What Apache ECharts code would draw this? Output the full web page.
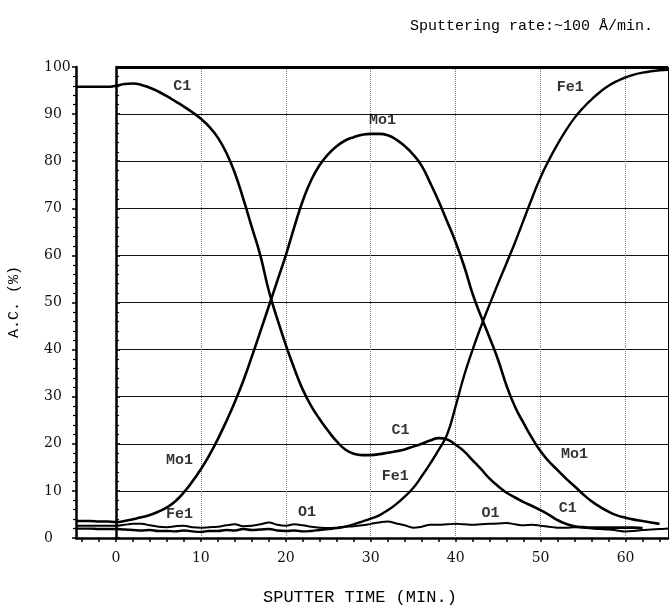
<!DOCTYPE html>
<html><head><meta charset="utf-8">
<script src="https://cdn.jsdelivr.net/npm/echarts@6/dist/echarts.min.js"></script>
<style>html,body{margin:0;padding:0;background:#fff}#c{width:670px;height:606px}</style>
</head><body><div id="c"></div><script>
// ---- data ----
const xTickLabels = [0, 10, 20, 30, 40, 50, 60];
const yTickLabels = [0, 10, 20, 30, 40, 50, 60, 70, 80, 90, 100];
const xMinorTicks = [-4, -2, 0, 2, 4, 6, 8, 10, 12, 14, 16, 18, 20, 22, 24, 26, 28, 30, 32, 34, 36, 38, 40, 42, 44, 46, 48, 50, 52, 54, 56, 58, 60, 62, 64];
const gridRows = [10, 20, 30, 40, 50, 60, 70, 80, 90];
const gridCols = [10, 20, 30, 40, 50, 60];

// sputter time (min): -4.7, then -4 ... 65 in 1-min steps
const sputterTime = [-4.7, -4, -3, -2, -1, 0, 1, 2, 3, 4, 5, 6, 7, 8, 9, 10, 11, 12, 13, 14, 15, 16, 17, 18, 19, 20, 21, 22, 23, 24, 25, 26, 27, 28, 29, 30, 31, 32, 33, 34, 35, 36, 37, 38, 39, 40, 41, 42, 43, 44, 45, 46, 47, 48, 49, 50, 51, 52, 53, 54, 55, 56, 57, 58, 59, 60, 61, 62, 63, 64, 65];

const c1Value = [95.8, 95.8, 95.8, 95.8, 95.8, 96.0, 96.4, 96.5, 96.2, 95.6, 94.8, 93.8, 92.7, 91.6, 90.4, 89.0, 87.3, 85.0, 81.8, 77.5, 72.0, 66.0, 60.0, 52.5, 46.5, 41.0, 36.0, 31.5, 28.0, 25.2, 22.7, 20.5, 18.8, 17.9, 17.6, 17.6, 17.8, 18.1, 18.4, 18.8, 19.4, 20.0, 20.7, 21.2, 20.9, 19.8, 18.4, 16.5, 14.6, 12.6, 11.0, 9.6, 8.6, 7.6, 6.8, 5.9, 4.9, 3.8, 3.0, 2.5, 2.3, 2.2, 2.2, 2.2, 2.2, 2.2, 2.2, 2.1, null, null, null];

const mo1Value = [3.6, 3.6, 3.6, 3.5, 3.5, 3.4, 3.6, 4.0, 4.4, 4.9, 5.6, 6.5, 7.8, 9.7, 12.0, 14.6, 17.6, 21.0, 24.8, 28.9, 33.4, 38.5, 43.8, 49.2, 54.6, 60.0, 66.0, 71.6, 76.0, 79.2, 81.5, 83.2, 84.4, 85.1, 85.6, 85.8, 85.8, 85.5, 84.6, 83.2, 81.4, 79.0, 75.4, 71.5, 67.2, 62.8, 57.7, 51.8, 47.0, 42.5, 37.8, 32.3, 27.8, 24.4, 21.2, 18.4, 16.2, 14.4, 12.6, 11.0, 9.3, 7.8, 6.6, 5.6, 4.8, 4.3, 3.9, 3.6, 3.3, 3.0, null];

const fe1Value = [2.0, 2.0, 2.0, 1.9, 1.9, 1.9, 1.8, 1.7, 1.6, 1.7, 1.5, 1.5, 1.4, 1.6, 1.4, 1.3, 1.5, 1.5, 1.7, 1.6, 1.9, 1.7, 1.8, 1.9, 1.6, 1.5, 1.6, 1.4, 1.5, 1.7, 1.9, 2.1, 2.4, 2.9, 3.5, 4.1, 4.8, 5.9, 7.2, 8.8, 10.6, 13.1, 15.8, 18.7, 22.0, 28.0, 34.5, 40.0, 45.0, 49.6, 54.1, 58.4, 62.8, 67.5, 72.2, 76.6, 80.3, 83.6, 86.6, 89.2, 91.3, 93.1, 94.7, 96.0, 97.0, 97.8, 98.4, 98.8, 99.1, 99.3, 99.4];

const o1Value = [2.6, 2.6, 2.6, 2.6, 2.6, 2.6, 2.8, 3.0, 3.0, 2.7, 2.4, 2.3, 2.5, 2.6, 2.3, 2.2, 2.3, 2.4, 2.7, 2.9, 2.5, 2.6, 2.9, 3.3, 2.8, 2.6, 2.9, 2.7, 2.4, 2.2, 2.1, 2.2, 2.4, 2.5, 2.7, 3.0, 3.3, 3.5, 3.1, 2.7, 2.2, 2.4, 2.8, 2.8, 2.9, 3.0, 2.9, 2.8, 2.9, 3.0, 3.1, 3.2, 2.9, 2.7, 2.8, 2.6, 2.4, 2.2, 2.2, 2.3, 2.2, 2.0, 1.9, 1.8, 1.6, 1.4, 1.5, 1.7, 1.8, 1.9, 2.0];

const noteText = ['C1', 'Mo1', 'Fe1', 'Mo1', 'Fe1', 'O1', 'C1', 'Fe1', 'O1', 'Mo1', 'C1'];
const noteTime = [7.8, 31.4, 53.5, 7.5, 7.5, 22.5, 33.5, 32.9, 44.1, 54, 53.2];
const noteLevel = [96, 88.7, 95.7, 16.6, 5.0, 5.5, 22.8, 13.2, 5.3, 17.7, 6.4];

// ---- chart ----
const FONT = 'DejaVu Serif';
const MONO = 'Liberation Mono';
const zip = (a, b) => a.map((t, i) => [t, b[i]]).filter(p => p[1] !== null);
const curve = (name, v, w, s) => ({
  name, type: 'line', data: zip(sputterTime, v), smooth: s, showSymbol: false,
  lineStyle: { color: '#000', width: w }, z: 5, silent: true
});

const markLines = [];
gridRows.forEach(v => markLines.push([{ coord: [0, v], lineStyle: { type: 'solid', width: 1, color: '#111' } }, { coord: [65, v] }]));
gridCols.forEach(v => markLines.push([{ coord: [v, 0], lineStyle: { type: 'dotted', width: 1, color: '#777' } }, { coord: [v, 100] }]));
markLines.push([{ coord: [0, 100], lineStyle: { type: 'solid', width: 3, color: '#000' } }, { coord: [65, 100] }]);
markLines.push([{ coord: [65, 0], lineStyle: { type: 'solid', width: 1, color: '#000' } }, { coord: [65, 100] }]);

const chart = echarts.init(document.getElementById('c'), null, { renderer: 'canvas' });
chart.setOption({
  animation: false,
  backgroundColor: '#fff',
  grid: { left: 76, right: 2, top: 67, bottom: 68, containLabel: false },
  xAxis: {
    type: 'value', min: -4.7, max: 65,
    axisLine: { show: true, onZero: false, lineStyle: { color: '#000', width: 2.5 } },
    axisTick: { show: true, customValues: xMinorTicks, length: 4, lineStyle: { color: '#000', width: 1.5 } },
    axisLabel: { customValues: xTickLabels, margin: 13, color: '#111', fontFamily: FONT, fontSize: 14 },
    splitLine: { show: false }
  },
  yAxis: [{
    type: 'value', min: 0, max: 100, interval: 10,
    axisLine: { show: true, onZero: false, lineStyle: { color: '#000', width: 2.5 } },
    axisTick: { show: true, length: 4, lineStyle: { color: '#000', width: 1.5 } },
    minorTick: { show: true, splitNumber: 5, length: 3, lineStyle: { color: '#000', width: 1.2 } },
    axisLabel: { align: 'left', margin: 32, color: '#111', fontFamily: FONT, fontSize: 14, formatter: v => yTickLabels.includes(v) ? String(v) : '' },
    splitLine: { show: false }
  }, {
    type: 'value', min: 0, max: 100, interval: 10, position: 'left', offset: -40,
    axisLine: { show: true, onZero: false, lineStyle: { color: '#000', width: 2.5 } },
    axisTick: { show: true, inside: true, length: 4, lineStyle: { color: '#000', width: 1.5 } },
    minorTick: { show: true, splitNumber: 5, length: 3, lineStyle: { color: '#000', width: 1.2 } },
    axisLabel: { show: false },
    splitLine: { show: false }
  }],
  series: [
    { name: 'grid', type: 'line', data: [], markLine: { silent: true, symbol: ['none', 'none'], label: { show: false }, data: markLines }, z: 1 },
    curve('C1', c1Value, 2.6, 0.5),
    curve('Mo1', mo1Value, 2.6, 0.5),
    curve('Fe1', fe1Value, 2.4, 0.5),
    curve('O1', o1Value, 2, 0.4),
    {
      name: 'notes', type: 'scatter', symbolSize: 0, z: 6,
      data: noteText.map((s, i) => ({ value: [noteTime[i], noteLevel[i]], name: s })),
      label: { show: true, position: 'inside', formatter: p => p.name, color: '#000', fontFamily: MONO, fontSize: 15, fontWeight: 'bold' }
    }
  ],
  graphic: [
    { type: 'text', left: 410, top: 19, style: { text: 'Sputtering rate:~100 Å/min.', font: '15px "Liberation Mono"', fill: '#000' } },
    { type: 'text', left: 263, top: 589, style: { text: 'SPUTTER TIME (MIN.)', font: '17px "Liberation Mono"', fill: '#000' } },
    { type: 'text', x: 14, y: 302, rotation: Math.PI / 2, style: { text: 'A.C. (%)', font: '15px "Liberation Mono"', fill: '#000', align: 'center', verticalAlign: 'middle' } }
  ]
});
</script></body></html>
